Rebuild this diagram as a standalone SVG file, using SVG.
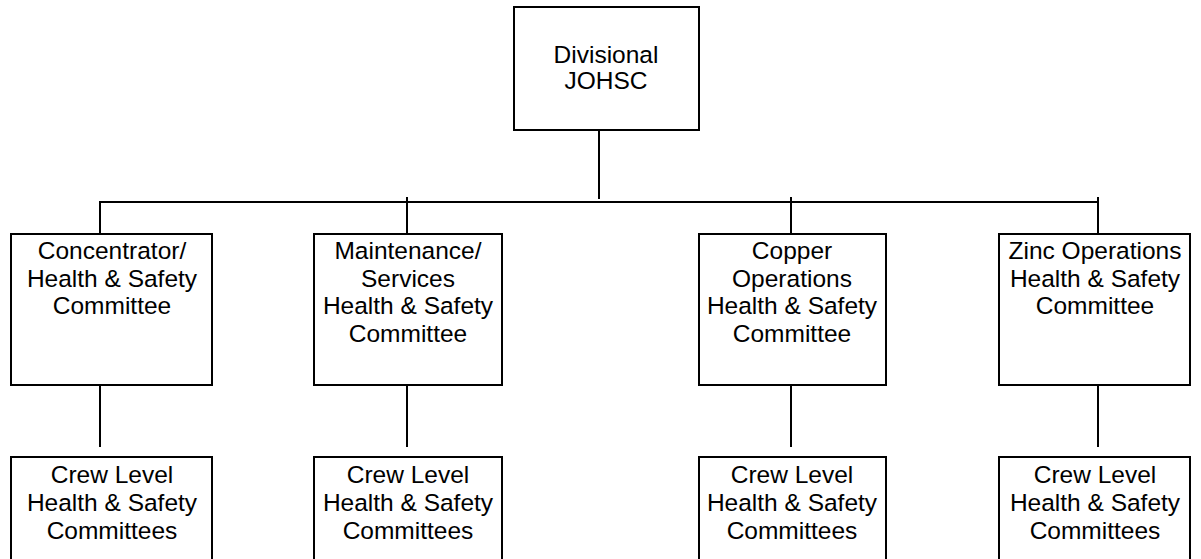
<svg xmlns="http://www.w3.org/2000/svg" width="1201" height="559" viewBox="0 0 1201 559">
<style>
.box{fill:#fff;stroke:#000;stroke-width:2}
.ln{stroke:#000;stroke-width:2;fill:none}
text{font-family:"Liberation Sans",Arial,sans-serif;font-size:24.5px;fill:#000;text-anchor:middle}
</style>
<rect width="1201" height="559" fill="#fff"/>
<g id="connectors">
<line class="ln" x1="599" y1="130" x2="599" y2="199"/>
<line class="ln" x1="99" y1="202" x2="1099" y2="202"/>
<line class="ln" x1="100" y1="202" x2="100" y2="234"/>
<line class="ln" x1="407" y1="197" x2="407" y2="234"/>
<line class="ln" x1="791" y1="197" x2="791" y2="234"/>
<line class="ln" x1="1098" y1="197" x2="1098" y2="234"/>
<line class="ln" x1="100" y1="385" x2="100" y2="447"/>
<line class="ln" x1="407" y1="385" x2="407" y2="447"/>
<line class="ln" x1="791" y1="385" x2="791" y2="447"/>
<line class="ln" x1="1098" y1="385" x2="1098" y2="447"/>
</g>
<g id="divisional">
<rect class="box" x="514" y="7" width="185" height="123"/>
<text x="606" y="63">Divisional</text>
<text x="606" y="88.5">JOHSC</text>
</g>
<g id="concentrator">
<rect class="box" x="11" y="234" width="201" height="151"/>
<text x="112" y="259">Concentrator/</text>
<text x="112" y="286.5">Health &amp; Safety</text>
<text x="112" y="314">Committee</text>
</g>
<g id="maintenance">
<rect class="box" x="314" y="234" width="188" height="151"/>
<text x="408" y="259">Maintenance/</text>
<text x="408" y="287">Services</text>
<text x="408" y="314">Health &amp; Safety</text>
<text x="408" y="342">Committee</text>
</g>
<g id="copper">
<rect class="box" x="699" y="234" width="187" height="151"/>
<text x="792" y="259">Copper</text>
<text x="792" y="287">Operations</text>
<text x="792" y="314">Health &amp; Safety</text>
<text x="792" y="342">Committee</text>
</g>
<g id="zinc">
<rect class="box" x="999" y="234" width="191" height="151"/>
<text x="1095" y="259">Zinc Operations</text>
<text x="1095" y="286.5">Health &amp; Safety</text>
<text x="1095" y="314">Committee</text>
</g>
<g id="crew1">
<rect class="box" x="11" y="457" width="201" height="120"/>
<text x="112" y="483">Crew Level</text>
<text x="112" y="511">Health &amp; Safety</text>
<text x="112" y="539">Committees</text>
</g>
<g id="crew2">
<rect class="box" x="314" y="457" width="188" height="120"/>
<text x="408" y="483">Crew Level</text>
<text x="408" y="511">Health &amp; Safety</text>
<text x="408" y="539">Committees</text>
</g>
<g id="crew3">
<rect class="box" x="699" y="457" width="187" height="120"/>
<text x="792" y="483">Crew Level</text>
<text x="792" y="511">Health &amp; Safety</text>
<text x="792" y="539">Committees</text>
</g>
<g id="crew4">
<rect class="box" x="999" y="457" width="191" height="120"/>
<text x="1095" y="483">Crew Level</text>
<text x="1095" y="511">Health &amp; Safety</text>
<text x="1095" y="539">Committees</text>
</g>
</svg>
